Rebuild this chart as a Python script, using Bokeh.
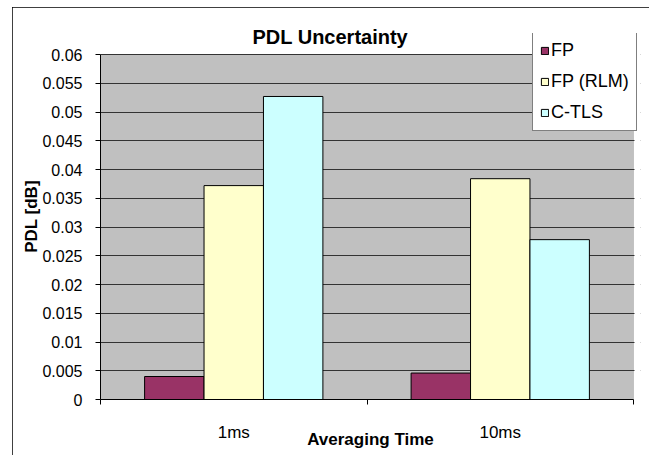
from bokeh.plotting import figure
from bokeh.models import (ColumnDataSource, Range1d, FixedTicker, Legend, LegendItem,
                          BoxAnnotation)
from bokeh.transform import dodge
from bokeh.embed import file_html
from bokeh.resources import INLINE

# ---- data ----
categories = ["1ms", "10ms"]
series_names = ["FP", "FP (RLM)", "C-TLS"]
fp = [0.0040, 0.0046]
fp_rlm = [0.0372, 0.0384]
c_tls = [0.0527, 0.0278]
y_ticks = [0, 0.005, 0.01, 0.015, 0.02, 0.025, 0.03, 0.035, 0.04, 0.045, 0.05, 0.055, 0.06]
y_tick_labels = ["0", "0.005", "0.01", "0.015", "0.02", "0.025", "0.03", "0.035",
                 "0.04", "0.045", "0.05", "0.055", "0.06"]
title_text = "PDL Uncertainty"
colors = ["#993366", "#FFFFCC", "#CCFFFF"]

FONT = "Liberation Sans"

n_cat = len(categories)
y_max = y_ticks[-1]
# frame is a bit larger than the grey plot area so the legend is not clipped
y_end = y_max * 366 / 345
x_end = n_cat * 540 / 533
px_x = n_cat / 533.0

xpos = [i + 0.5 for i in range(n_cat)]
source = ColumnDataSource(data=dict(x=xpos, fp=fp, fp_rlm=fp_rlm, c_tls=c_tls))

p = figure(width=637, height=450, output_backend="svg", toolbar_location=None,
           x_range=Range1d(0, x_end), y_range=Range1d(0, y_end),
           min_border_left=88, min_border_right=9, min_border_top=26,
           min_border_bottom=58)
p.styles = {"margin-left": "12px", "margin-top": "7px",
            "outline": "1px solid black", "outline-offset": "-1px"}

p.background_fill_color = "white"
p.border_fill_color = "white"
p.outline_line_color = None

# grey plot area
plot_area = BoxAnnotation(left=0, right=n_cat, bottom=0, top=y_max,
                          fill_color="#C0C0C0", fill_alpha=1,
                          line_color="#808080", line_width=1, level="image")
p.add_layout(plot_area)

bw = 0.223
fields = ["fp", "fp_rlm", "c_tls"]
offsets = [-bw, 0.0, bw]
renderers = []
for f, off, c in zip(fields, offsets, colors):
    r = p.vbar(x=dodge("x", off), top=f, width=bw, bottom=0, source=source,
               fill_color=c, line_color="black", line_width=1)
    renderers.append(r)

# title
p.title.text = title_text
p.title.align = "left"
p.title.offset = 152
p.title.text_font = FONT
p.title.text_font_size = "20px"
p.title.text_font_style = "bold"
p.title.text_color = "black"
p.title.standoff = -28

# x axis
xa = p.xaxis[0]
xa.bounds = (0, n_cat)
xa.ticker = FixedTicker(ticks=xpos, minor_ticks=[float(i) for i in range(n_cat + 1)])
xa.major_label_overrides = {x: c for x, c in zip(xpos, categories)}
xa.major_tick_line_color = None
xa.major_tick_out = 0
xa.major_tick_in = 0
xa.minor_tick_in = 0
xa.minor_tick_out = 5
xa.minor_tick_line_color = "black"
xa.axis_line_color = "black"
xa.major_label_text_font = FONT
xa.major_label_text_font_size = "17px"
xa.major_label_text_color = "black"
xa.major_label_standoff = 18
xa.axis_label = "Averaging Time"
xa.axis_label_text_font = FONT
xa.axis_label_text_font_size = "17px"
xa.axis_label_text_font_style = "bold"
xa.axis_label_text_color = "black"
xa.axis_label_standoff = -15

# y axis
ya = p.yaxis[0]
ya.bounds = (0, y_max)
ya.ticker = FixedTicker(ticks=y_ticks, minor_ticks=[])
ya.major_label_overrides = {t: l for t, l in zip(y_ticks, y_tick_labels)}
ya.major_tick_out = 5
ya.major_tick_in = 0
ya.major_tick_line_color = "black"
ya.axis_line_color = "black"
ya.major_label_text_font = FONT
ya.major_label_text_font_size = "16px"
ya.major_label_text_color = "black"
ya.major_label_standoff = 13
ya.axis_label = "PDL [dB]"
ya.axis_label_text_font = FONT
ya.axis_label_text_font_size = "17px"
ya.axis_label_text_font_style = "bold"
ya.axis_label_text_color = "black"
ya.axis_label_standoff = -2

p.xgrid.grid_line_color = None
p.ygrid.grid_line_color = "#333333"
p.ygrid.grid_line_width = 1

# hide the grid lines to the right of the plot area
right_cover = BoxAnnotation(left=n_cat + px_x, right=x_end, bottom=-1, top=y_end,
                            fill_color="white", fill_alpha=1, line_color=None)
p.add_layout(right_cover)

legend = Legend(items=[LegendItem(label=n, renderers=[r]) for n, r in zip(series_names, renderers)],
                location=(432, 268))
legend.border_line_color = "black"
legend.border_line_width = 1
legend.background_fill_color = "white"
legend.background_fill_alpha = 1
legend.label_text_font = FONT
legend.label_text_font_size = "18px"
legend.label_text_color = "black"
legend.glyph_width = 9
legend.glyph_height = 9
legend.label_standoff = 2
legend.padding = 7
legend.spacing = 10
legend.margin = 0
p.add_layout(legend)

open("out.html", "w").write(file_html(p, INLINE))
